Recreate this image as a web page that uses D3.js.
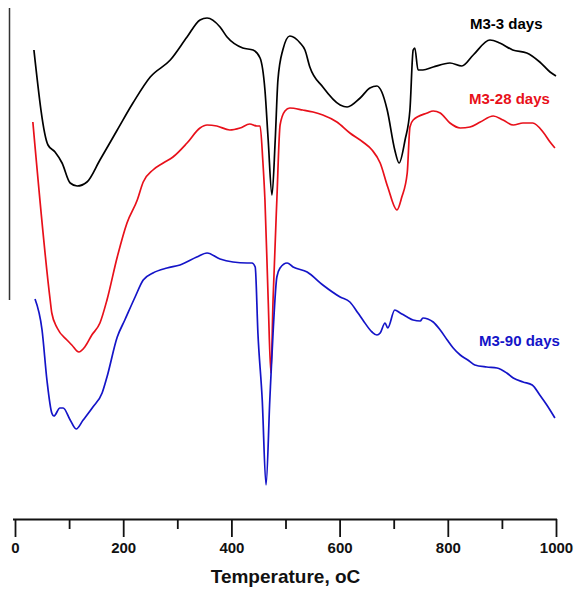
<!DOCTYPE html>
<html>
<head>
<meta charset="utf-8">
<script src="https://cdn.jsdelivr.net/npm/d3@7"></script>
<style>
  body { margin: 0; background: #fff; }
  svg { display: block; font-family: "Liberation Sans", Arial, sans-serif; }
</style>
</head>
<body>
<div id="chart"></div>
<script>
// ------------------------------------------------------------
// Data (temperature in oC, signal in arbitrary units)
// ------------------------------------------------------------
const seriesNames = ["M3-3 days", "M3-28 days", "M3-90 days"]
const seriesColors = ["#000000", "#e8101a", "#1414c8"]

const tempDay3 = [35, 61, 74, 87, 102, 115, 133, 157, 189, 218, 250, 287, 318, 342, 355, 379, 392, 421, 440, 453,
    462, 468, 475, 481, 486, 495, 508, 527, 536, 545, 569, 601, 614, 638, 656, 669, 678, 688, 702, 710,
    721, 730, 736, 739, 745, 754, 773, 804, 826, 847, 878, 896, 920, 946, 970, 989, 1000]
const signalDay3 = [47.0, 37.5, 36.8, 35.7, 33.7, 33.4, 33.8, 36.0, 39.0, 41.7, 44.3, 46.0, 48.3, 50.0, 50.2, 49.3, 48.3, 47.2, 47.0, 46.2,
    43.0, 38.0, 32.5, 38.0, 44.0, 47.0, 48.4, 47.7, 47.0, 45.3, 43.3, 41.5, 41.3, 42.2, 43.2, 43.4, 42.8, 41.0, 37.0, 35.7,
    38.0, 41.0, 47.0, 47.2, 45.0, 45.0, 45.3, 45.7, 45.4, 46.5, 48.0, 47.7, 47.0, 46.7, 45.8, 44.8, 44.4]

const tempDay28 = [33, 65, 68, 78, 96, 105, 118, 129, 142, 157, 170, 189, 207, 226, 237, 255, 274, 292, 318, 342,
    355, 373, 397, 416, 434, 447, 453, 458, 462, 468, 473, 477, 484, 490, 499, 508, 532, 551, 569, 595,
    619, 643, 660, 675, 689, 706, 715, 725, 730, 736, 762, 773, 786, 804, 823, 841, 860, 884, 902, 921,
    939, 957, 976, 989, 998]
const signalDay28 = [39.8, 22.0, 20.7, 19.2, 18.0, 17.5, 16.8, 17.3, 18.5, 19.7, 22.0, 26.3, 29.7, 32.0, 33.8, 35.0, 35.7, 36.3, 37.7, 39.2,
    39.5, 39.4, 39.0, 39.2, 39.6, 39.4, 39.4, 36.0, 32.0, 22.0, 14.7, 22.0, 32.0, 39.5, 40.9, 41.2, 41.0, 40.8, 40.5, 39.8,
    38.7, 37.8, 37.0, 35.7, 33.3, 31.0, 32.3, 34.7, 39.3, 40.0, 40.7, 40.9, 40.7, 39.7, 39.2, 39.3, 39.8, 40.4, 40.0, 39.5,
    39.7, 39.7, 38.8, 37.8, 37.2]

const tempDay90 = [37, 50, 59, 68, 72, 83, 89, 102, 113, 126, 144, 161, 170, 189, 203, 222, 237, 255, 281, 305,
    336, 355, 379, 403, 429, 438, 444, 449, 457, 464, 471, 477, 484, 490, 503, 514, 540, 569, 601, 619,
    634, 643, 660, 669, 675, 684, 689, 702, 712, 725, 736, 749, 754, 763, 773, 786, 799, 810, 823, 837,
    850, 872, 891, 909, 921, 939, 956, 970, 983, 998]
const signalDay90 = [22.1, 19.0, 14.0, 10.7, 10.4, 11.2, 11.2, 10.0, 9.1, 10.0, 11.3, 12.7, 14.3, 18.3, 20.0, 22.3, 24.0, 24.7, 25.2, 25.5,
    26.3, 26.7, 26.1, 25.8, 25.7, 25.7, 25.3, 18.7, 12.0, 3.5, 12.0, 18.7, 24.3, 25.2, 25.7, 25.3, 24.8, 23.5, 22.3, 21.8,
    20.7, 20.0, 18.8, 18.5, 18.7, 19.7, 19.2, 21.0, 20.7, 20.3, 20.0, 19.9, 20.2, 20.1, 19.8, 19.0, 18.0, 17.2, 16.5, 16.0,
    15.5, 15.3, 15.2, 14.7, 14.2, 13.8, 13.5, 12.5, 11.5, 10.2]

const majorTicks = [0, 200, 400, 600, 800, 1000]
const minorTicks = [100, 300, 500, 700, 900]

// ------------------------------------------------------------
// Chart
// ------------------------------------------------------------
const width = 574
const height = 592

const svg = d3.select("#chart")
    .append("svg")
    .attr("width", width)
    .attr("height", height)

svg.append("rect")
    .attr("width", width)
    .attr("height", height)
    .attr("fill", "#fff")

const xScale = d3.scaleLinear()
    .domain([0, 1000])
    .range([15, 556])

const yScale = d3.scaleLinear()
    .domain([0, 52])
    .range([520, 0])

// vertical bar on the left
svg.append("line")
    .attr("x1", 9.5)
    .attr("x2", 9.5)
    .attr("y1", yScale(51.2))
    .attr("y2", yScale(22))
    .attr("stroke", "#333")
    .attr("stroke-width", 1.5)

const line = d3.line()
    .x(d => xScale(d[0]))
    .y(d => yScale(d[1]))
    .curve(d3.curveMonotoneX)

const series = [
    d3.zip(tempDay3, signalDay3),
    d3.zip(tempDay28, signalDay28),
    d3.zip(tempDay90, signalDay90)
]

svg.selectAll("path.curve")
    .data(series)
    .enter()
    .append("path")
    .attr("class", "curve")
    .attr("d", line)
    .attr("fill", "none")
    .attr("stroke", (d, i) => seriesColors[i])
    .attr("stroke-width", 1.7)
    .attr("stroke-linejoin", "round")

// series labels
const labelPos = [[470, 29], [469, 104], [479, 346]]
svg.selectAll("text.label")
    .data(seriesNames)
    .enter()
    .append("text")
    .attr("class", "label")
    .attr("x", (d, i) => labelPos[i][0])
    .attr("y", (d, i) => labelPos[i][1])
    .attr("fill", (d, i) => seriesColors[i])
    .attr("font-size", "15px")
    .attr("font-weight", "bold")
    .text(d => d)

// x axis
const axisY = 519

svg.append("g")
    .attr("transform", `translate(0,${axisY})`)
    .call(d3.axisBottom(xScale).tickValues(minorTicks).tickSize(10).tickSizeOuter(0).tickFormat(""))
    .call(g => g.select(".domain").remove())
    .selectAll("line")
    .attr("stroke", "#111")
    .attr("stroke-width", 1.8)

const xAxis = svg.append("g")
    .attr("transform", `translate(0,${axisY})`)
    .call(d3.axisBottom(xScale)
        .tickValues(majorTicks)
        .tickFormat(d3.format("d"))
        .tickSize(18)
        .tickSizeOuter(0)
        .tickPadding(5))

xAxis.select(".domain")
    .attr("stroke", "#111")
    .attr("stroke-width", 2)
    .attr("d", `M${xScale(0) - 2},0.5H${xScale(1000) + 1}`)

xAxis.selectAll(".tick line")
    .attr("stroke", "#111")
    .attr("stroke-width", 1.8)

xAxis.selectAll(".tick text")
    .attr("fill", "#111")
    .attr("font-size", "15px")
    .attr("font-weight", "bold")
    .attr("font-family", "Liberation Sans, Arial, sans-serif")

svg.append("text")
    .attr("x", (xScale(0) + xScale(1000)) / 2)
    .attr("y", 583)
    .attr("text-anchor", "middle")
    .attr("font-size", "19px")
    .attr("font-weight", "bold")
    .attr("fill", "#111")
    .text("Temperature, oC")
</script>
</body>
</html>
